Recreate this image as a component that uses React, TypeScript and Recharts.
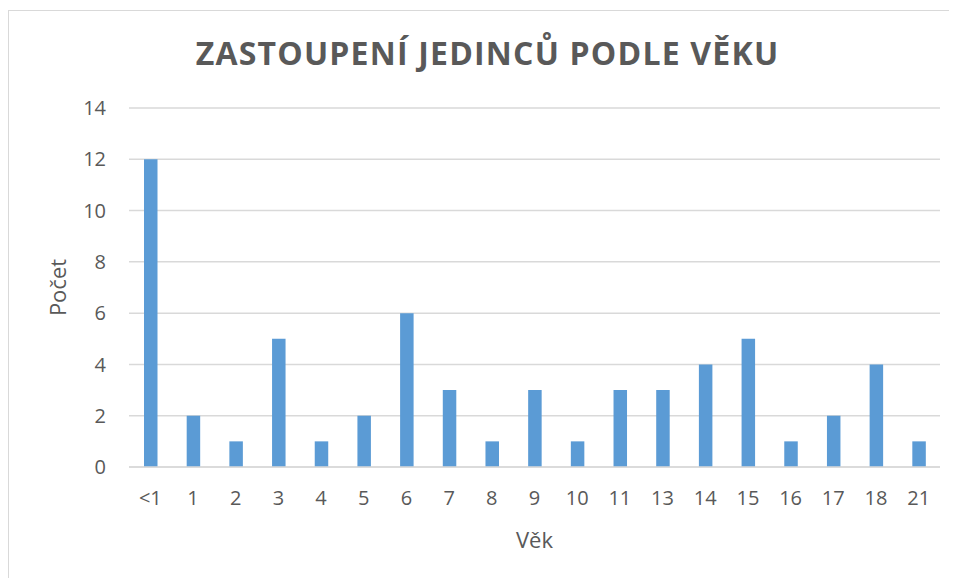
import React from 'react';
import { BarChart, Bar, XAxis, YAxis, CartesianGrid } from 'recharts';

const categories = ['<1', '1', '2', '3', '4', '5', '6', '7', '8', '9', '10', '11', '13', '14', '15', '16', '17', '18', '21'];
const counts = [12, 2, 1, 5, 1, 2, 6, 3, 1, 3, 1, 3, 3, 4, 5, 1, 2, 4, 1];
const yTicks = [0, 2, 4, 6, 8, 10, 12, 14];

const data = categories.map((c, i) => ({ age: c, count: counts[i] }));

const TEXT = '#595959';
const GRID = '#D9D9D9';
const FONT = '"Open Sans", sans-serif';

const YLabel = (props: any) => {
  const vb = props.viewBox || { x: 0, y: 100, width: 121, height: 359 };
  const cx = vb.x + 58;
  const cy = vb.y + vb.height / 2;
  return (
    <text x={cx} y={cy} transform={`rotate(-90, ${cx}, ${cy})`} textAnchor="middle" fill={TEXT} fontSize={22} fontFamily={FONT}>
      Počet
    </text>
  );
};

const XLabel = (props: any) => {
  const vb = props.viewBox || { x: 121, y: 459, width: 811, height: 60 };
  const cx = vb.x + vb.width / 2;
  const cy = vb.y + 81;
  return (
    <text x={cx} y={cy} textAnchor="middle" fill={TEXT} fontSize={22} fontFamily={FONT}>
      Věk
    </text>
  );
};

export default function App() {
  return (
    <div style={{ position: 'relative', width: 949, height: 570, overflow: 'hidden', background: '#fff' }}>
      <div style={{ position: 'absolute', left: 0, top: 2, width: 1200, height: 1200, border: `1px solid ${GRID}`, boxSizing: 'border-box' }} />
      <svg width={949} height={90} style={{ position: 'absolute', left: 0, top: 0 }}>
        <text x={479.5} y={57} textAnchor="middle" fill={TEXT} fontSize={32} fontWeight="bold" fontFamily={FONT} letterSpacing={1.2}>
          ZASTOUPENÍ JEDINCŮ PODLE VĚKU
        </text>
      </svg>
      <div style={{ position: 'absolute', left: 0, top: 0 }}>
        <BarChart width={949} height={570} data={data} margin={{ top: 100, right: 17, left: 0, bottom: 51 }} barSize={13.5}>
          <CartesianGrid vertical={false} stroke={GRID} strokeWidth={1.5} />
          <XAxis
            dataKey="age"
            height={60}
            interval={0}
            tickSize={0}
            tickMargin={24}
            tickLine={false}
            axisLine={{ stroke: GRID, strokeWidth: 1.5 }}
            tick={{ fill: TEXT, fontSize: 20, fontFamily: FONT }}
            label={{ content: XLabel }}
          />
          <YAxis
            width={121}
            domain={[0, 14]}
            ticks={yTicks}
            interval={0}
            tickSize={0}
            tickMargin={23}
            tickLine={false}
            axisLine={false}
            tick={{ fill: TEXT, fontSize: 20, fontFamily: FONT }}
            label={{ content: YLabel }}
          />
          <Bar dataKey="count" fill="#5B9BD5" isAnimationActive={false} />
        </BarChart>
      </div>
    </div>
  );
}
